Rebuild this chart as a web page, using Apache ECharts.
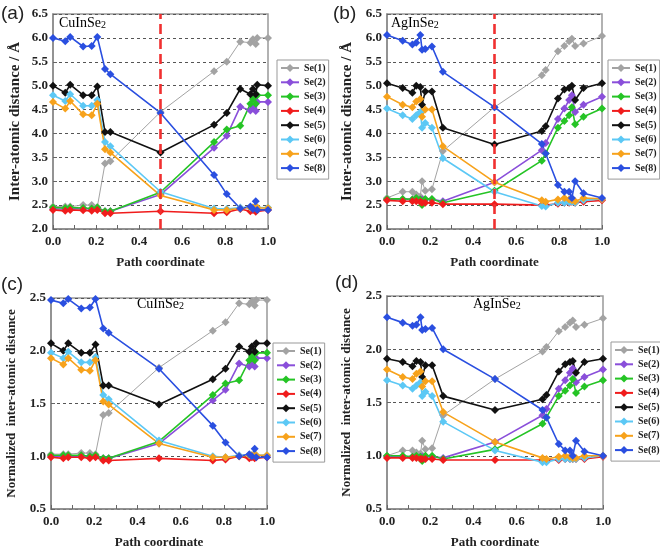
<!DOCTYPE html>
<html>
<head>
<meta charset="utf-8">
<script src="https://cdn.jsdelivr.net/npm/echarts@6/dist/echarts.min.js"></script>
<style>
html,body{margin:0;padding:0;background:#fff;}
#chart{width:660px;height:550px;}
</style>
</head>
<body>
<div id="chart"></div>
<script>
// ---------- DATA ----------
const seriesNames = ['Se(1)','Se(2)','Se(3)','Se(4)','Se(5)','Se(6)','Se(7)','Se(8)'];
const xTicks = [0.0, 0.2, 0.4, 0.6, 0.8, 1.0];

// Panel (a) CuInSe2, inter-atomic distance / Å
const xA = [0, 0.057, 0.08, 0.14, 0.18, 0.206, 0.242, 0.267, 0.5, 0.749, 0.808, 0.871, 0.918, 0.93, 0.943, 0.95, 1.0];
const aSe1 = [2.47,2.47,2.47,2.50,2.50,2.46,3.37,3.42,4.45,5.30,5.50,5.92,5.90,5.97,5.87,6.00,6.00];
const aSe2 = [2.42,2.42,2.42,2.43,2.42,2.42,2.37,2.37,2.72,3.70,3.95,4.56,4.48,4.55,4.47,4.66,4.66];
const aSe3 = [2.45,2.44,2.45,2.44,2.43,2.45,2.37,2.37,2.77,3.82,4.08,4.16,4.62,4.72,4.62,4.80,4.80];
const aSe4 = [2.40,2.38,2.40,2.39,2.38,2.40,2.33,2.33,2.37,2.33,2.35,2.42,2.37,2.40,2.36,2.40,2.40];
const aSe5 = [5.00,4.85,5.02,4.80,4.80,4.98,4.03,4.03,3.60,4.18,4.43,4.93,4.82,4.93,4.82,5.02,5.00];
const aSe6 = [4.80,4.68,4.82,4.58,4.58,4.70,3.82,3.73,2.78,2.43,2.42,2.45,2.45,2.45,2.45,2.45,2.45];
const aSe7 = [4.66,4.52,4.68,4.40,4.38,4.62,3.67,3.60,2.70,2.40,2.40,2.43,2.45,2.45,2.44,2.45,2.44];
const aSe8 = [6.00,5.93,6.02,5.82,5.83,6.02,5.35,5.24,4.43,3.13,2.73,2.43,2.47,2.42,2.58,2.40,2.40];

// Panel (b) AgInSe2, inter-atomic distance / Å
const xB = [0, 0.073, 0.118, 0.136, 0.155, 0.163, 0.178, 0.209, 0.26, 0.5, 0.72, 0.738, 0.795, 0.825, 0.847, 0.86, 0.875, 0.914, 1.0];
const bSe1 = [2.65,2.78,2.78,2.72,2.68,3.00,2.80,2.83,3.63,4.55,5.22,5.33,5.72,5.83,5.93,5.98,5.83,5.88,6.04];
const bSe2 = [2.62,2.62,2.62,2.62,2.62,2.62,2.62,2.62,2.58,2.98,3.65,3.80,4.30,4.52,4.70,4.80,4.45,4.60,4.77];
const bSe3 = [2.63,2.63,2.62,2.65,2.62,2.50,2.63,2.63,2.55,2.80,3.43,3.58,4.12,4.26,4.38,4.55,4.19,4.35,4.52];
const bSe4 = [2.60,2.58,2.58,2.58,2.57,2.55,2.55,2.55,2.52,2.52,2.50,2.50,2.53,2.55,2.55,2.57,2.55,2.57,2.60];
const bSe5 = [5.05,4.95,4.85,5.00,4.97,4.60,4.88,4.88,4.12,3.77,4.05,4.15,4.73,4.92,4.95,5.00,4.70,4.95,5.05];
const bSe6 = [4.52,4.38,4.30,4.38,4.45,4.12,4.22,4.12,3.48,2.78,2.48,2.47,2.55,2.55,2.56,2.57,2.55,2.60,2.63];
const bSe7 = [4.77,4.60,4.55,4.67,4.72,4.35,4.50,4.50,3.73,2.98,2.60,2.57,2.62,2.65,2.62,2.60,2.58,2.65,2.63];
const bSe8 = [6.06,5.94,5.86,5.90,6.06,5.75,5.77,5.82,5.29,4.55,3.78,3.58,2.92,2.78,2.78,2.65,3.00,2.75,2.65];

// Panel (c) CuInSe2, normalized inter-atomic distance
const xC = [0, 0.057, 0.08, 0.14, 0.18, 0.206, 0.242, 0.267, 0.5, 0.749, 0.808, 0.871, 0.918, 0.93, 0.943, 0.95, 1.0];
const cSe1 = [1.02,1.02,1.02,1.03,1.03,1.02,1.39,1.41,1.84,2.19,2.27,2.45,2.44,2.47,2.43,2.48,2.48];
const cSe2 = [1.00,1.00,1.00,1.00,1.00,1.00,0.98,0.98,1.12,1.53,1.63,1.88,1.85,1.88,1.85,1.93,1.93];
const cSe3 = [1.01,1.01,1.01,1.01,1.00,1.01,0.98,0.98,1.14,1.58,1.69,1.72,1.91,1.95,1.91,1.98,1.98];
const cSe4 = [0.99,0.98,0.99,0.99,0.98,0.99,0.96,0.96,0.98,0.96,0.97,1.00,0.98,0.99,0.98,0.99,0.99];
const cSe5 = [2.07,2.00,2.07,1.98,1.98,2.06,1.67,1.67,1.49,1.73,1.83,2.04,1.99,2.04,1.99,2.07,2.07];
const cSe6 = [1.98,1.93,1.99,1.89,1.89,1.94,1.58,1.54,1.15,1.00,0.99,1.01,1.01,1.01,1.01,1.01,1.01];
const cSe7 = [1.93,1.87,1.93,1.82,1.81,1.91,1.52,1.49,1.12,0.99,0.99,1.00,1.01,1.01,1.01,1.01,1.01];
const cSe8 = [2.48,2.45,2.49,2.40,2.41,2.49,2.21,2.17,1.83,1.29,1.13,1.00,1.02,1.00,1.07,0.99,0.99];

// Panel (d) AgInSe2, normalized inter-atomic distance
const xD = [0, 0.073, 0.118, 0.136, 0.155, 0.163, 0.178, 0.209, 0.26, 0.5, 0.72, 0.738, 0.795, 0.825, 0.847, 0.86, 0.875, 0.914, 1.0];
const dSe1 = [1.00,1.05,1.05,1.03,1.02,1.14,1.06,1.07,1.38,1.72,1.98,2.02,2.17,2.21,2.25,2.27,2.21,2.23,2.29];
const dSe2 = [0.99,0.99,0.99,0.99,0.99,0.99,0.99,0.99,0.98,1.13,1.38,1.44,1.63,1.71,1.78,1.82,1.69,1.74,1.81];
const dSe3 = [1.00,1.00,0.99,1.00,0.99,0.95,1.00,1.00,0.97,1.06,1.30,1.36,1.56,1.61,1.66,1.72,1.59,1.65,1.71];
const dSe4 = [0.98,0.98,0.98,0.98,0.97,0.97,0.97,0.97,0.96,0.96,0.96,0.96,0.96,0.97,0.97,0.97,0.97,0.97,0.99];
const dSe5 = [1.91,1.88,1.84,1.89,1.88,1.74,1.85,1.85,1.56,1.43,1.53,1.57,1.79,1.86,1.88,1.89,1.78,1.88,1.91];
const dSe6 = [1.71,1.66,1.63,1.66,1.69,1.56,1.60,1.56,1.32,1.05,0.94,0.94,0.97,0.97,0.97,0.97,0.97,0.98,1.00];
const dSe7 = [1.81,1.74,1.72,1.77,1.79,1.65,1.70,1.70,1.41,1.13,0.98,0.97,0.99,1.00,0.99,0.98,0.98,1.00,1.00];
const dSe8 = [2.30,2.25,2.22,2.23,2.30,2.18,2.19,2.20,2.00,1.72,1.43,1.36,1.11,1.05,1.05,1.00,1.14,1.04,1.00];

const panels = [
  {x: xA, ys: [aSe1,aSe2,aSe3,aSe4,aSe5,aSe6,aSe7,aSe8]},
  {x: xB, ys: [bSe1,bSe2,bSe3,bSe4,bSe5,bSe6,bSe7,bSe8]},
  {x: xC, ys: [cSe1,cSe2,cSe3,cSe4,cSe5,cSe6,cSe7,cSe8]},
  {x: xD, ys: [dSe1,dSe2,dSe3,dSe4,dSe5,dSe6,dSe7,dSe8]}
];

// ---------- STYLE ----------
const colors = ['#A3A3A3','#8A4FDA','#25C425','#F01C1C','#111111','#5CC8F5','#F7A21B','#2A4FE0'];
const serif = '"Liberation Serif", "Times New Roman", serif';
const grids = [
  {left: 53, top: 14, width: 215, height: 215},
  {left: 387, top: 14, width: 215, height: 215},
  {left: 51, top: 298, width: 216, height: 213},
  {left: 387, top: 296, width: 216, height: 215}
];
const yNames = ['Inter-atomic distance / Å','Inter-atomic distance / Å','Normalized  inter-atomic distance','Normalized  inter-atomic distance'];
const yRange = [[2,6.5],[2,6.5],[0.5,2.5],[0.5,2.5]];
const yNameGap = [30, 32, 33, 34];
const yNameSize = [15, 15, 13, 13];
const legendPos = [
  {left: 277, top: 60}, {left: 608, top: 60}, {left: 273, top: 343}, {left: 611, top: 342}
];

const xAxes = grids.map((g, i) => ({
  type: 'value', gridIndex: i, min: 0, max: 1, interval: 0.2,
  name: 'Path coordinate', nameLocation: 'middle', nameGap: 27,
  nameTextStyle: {fontFamily: serif, fontWeight: 'bold', fontSize: 13, color: '#222'},
  axisLine: {show: true, lineStyle: {color: '#888', width: 1.5}},
  axisTick: {show: true, inside: true, length: 4, lineStyle: {color: '#666'}},
  minorTick: {show: true, splitNumber: 2, length: 4, lineStyle: {color: '#666'}},
  splitLine: {show: false},
  axisLabel: {fontFamily: serif, fontWeight: 'bold', fontSize: 13, color: '#222', margin: 6,
    formatter: v => v.toFixed(1)}
}));
const yAxes = grids.map((g, i) => ({
  type: 'value', gridIndex: i, min: yRange[i][0], max: yRange[i][1], interval: 0.5,
  name: yNames[i], nameLocation: 'middle', nameGap: yNameGap[i],
  nameTextStyle: {fontFamily: serif, fontWeight: 'bold', fontSize: yNameSize[i], color: '#222'},
  axisLine: {show: true, lineStyle: {color: '#888', width: 1.5}},
  axisTick: {show: true, inside: true, length: 4, lineStyle: {color: '#666'}},
  splitLine: {show: true, lineStyle: {color: '#555', type: [3,3], width: 1}},
  axisLabel: {fontFamily: serif, fontWeight: 'bold', fontSize: 13, color: '#222', margin: 5,
    formatter: v => v.toFixed(1)}
}));

const series = [];
panels.forEach((p, pi) => {
  p.ys.forEach((ys, si) => {
    const s = {
      type: 'line', name: seriesNames[si], xAxisIndex: pi, yAxisIndex: pi,
      data: p.x.map((xv, k) => [xv, ys[k]]),
      symbol: 'diamond', symbolSize: 8,
      itemStyle: {color: colors[si]},
      lineStyle: {color: colors[si], width: si === 0 ? 1 : 1.6},
      emphasis: {disabled: true}, silent: true
    };
    if (si === 7 && pi < 2) {
      s.markLine = {
        silent: true, symbol: 'none', label: {show: false},
        lineStyle: {color: '#F03030', type: [10,5], width: 2.6},
        data: [{xAxis: 0.5}]
      };
    }
    series.push(s);
  });
});

const legends = legendPos.map(lp => ({
  orient: 'vertical', left: lp.left, top: lp.top,
  data: seriesNames, padding: [3, 3, 6, 3], itemGap: 4.3,
  itemWidth: 18, itemHeight: 10,
  borderColor: '#999', borderWidth: 1,
  textStyle: {fontFamily: serif, fontWeight: 'bold', fontSize: 10, color: '#222'},
  selectedMode: false
}));

const richT = {
  m: {fontFamily: serif, fontSize: 14, color: '#222', lineHeight: 18, verticalAlign: 'bottom'},
  s: {fontFamily: serif, fontSize: 10, color: '#222', lineHeight: 9, verticalAlign: 'bottom'}
};
function title(txt, left, top) {
  return {type: 'text', left: left, top: top, style: {text: '{m|' + txt + '}{s|2}', rich: richT}};
}
function plabel(txt, left, top) {
  return {type: 'text', left: left, top: top,
    style: {text: txt, fontFamily: '"Liberation Sans", Arial, sans-serif', fontSize: 19, fill: '#222'}};
}

const chart = echarts.init(document.getElementById('chart'), null, {renderer: 'canvas'});
chart.setOption({
  animation: false,
  backgroundColor: '#fff',
  grid: grids.map(g => Object.assign({show: true, borderColor: '#999', borderWidth: 1.5, backgroundColor: 'transparent'}, g)),
  xAxis: xAxes,
  yAxis: yAxes,
  legend: legends,
  series: series,
  graphic: [
    plabel('(a)', 1, 4), plabel('(b)', 333, 4), plabel('(c)', 1, 275), plabel('(d)', 335, 273),
    title('CuInSe', 59, 16), title('AgInSe', 391, 16), title('CuInSe', 137, 297), title('AgInSe', 473, 297)
  ]
});
</script>
</body>
</html>
